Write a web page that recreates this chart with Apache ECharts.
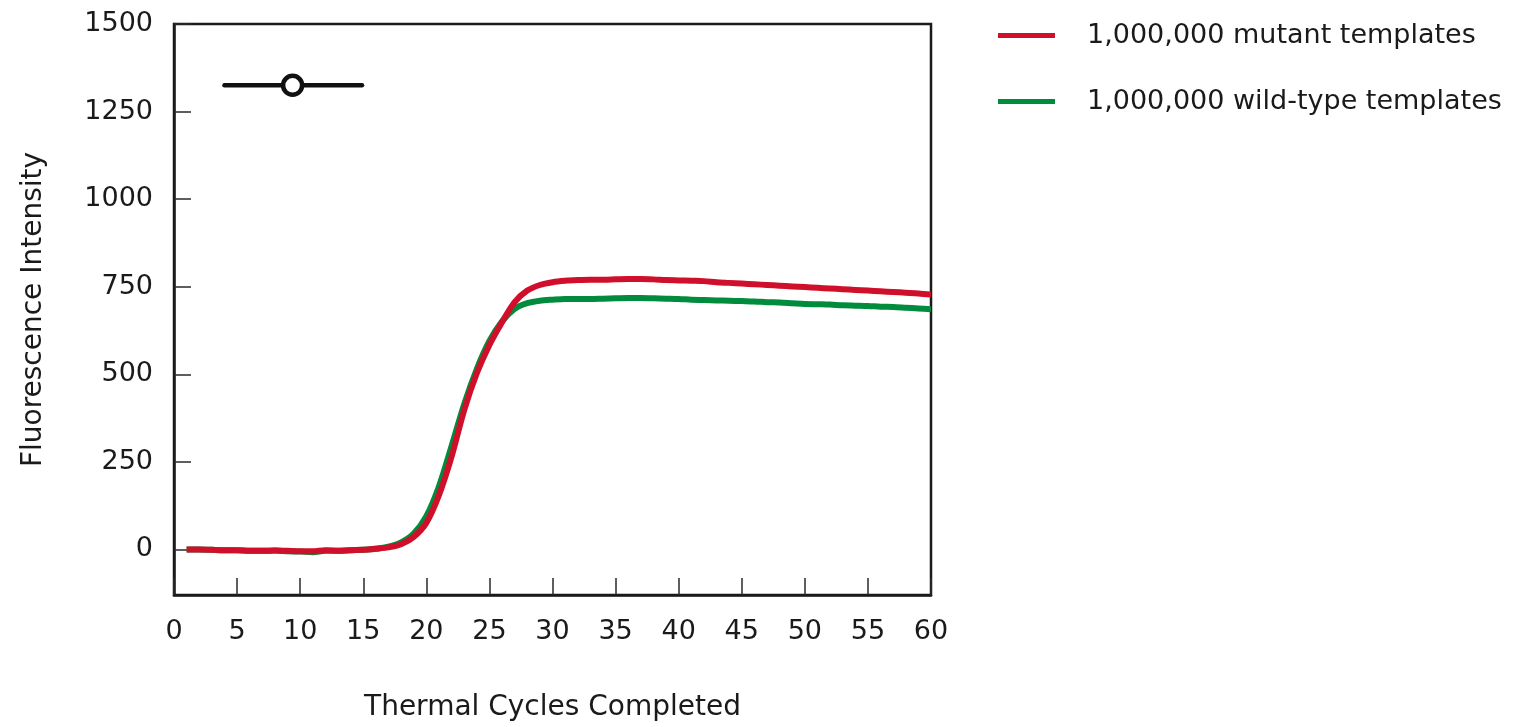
<!DOCTYPE html>
<html>
<head>
<meta charset="utf-8">
<script src="https://cdn.jsdelivr.net/npm/echarts@6/dist/echarts.min.js"></script>
<style>
  html, body { margin: 0; padding: 0; background: #ffffff; }
  #chart { width: 1525px; height: 727px; }
</style>
</head>
<body>
<div id="chart"></div>
<script>
// Thermal cycle numbers (x values)
const cycles = [
  1, 2, 3, 4, 5, 6, 7, 8, 9, 10,
  11, 12, 13, 14, 15, 16, 17, 18, 19, 20,
  21, 22, 23, 24, 25, 26, 27, 28, 29, 30,
  31, 32, 33, 34, 35, 36, 37, 38, 39, 40,
  41, 42, 43, 44, 45, 46, 47, 48, 49, 50,
  51, 52, 53, 54, 55, 56, 57, 58, 59, 60
];

// Fluorescence readings, 1,000,000 mutant templates
const mutantValues = [
  0, 0, -1, -2, -2, -4, -4, -3, -4, -5,
  -5, -2, -4, -2, -1, 2, 6, 15, 36, 76,
  155, 265, 398, 503, 584, 649, 706, 739, 755, 763,
  767, 769, 770, 770, 771, 772, 772, 771, 769, 768,
  767, 766, 763, 761, 759, 757, 755, 753, 751, 749,
  747, 745, 743, 741, 739, 737, 735, 733, 731, 728
];

// Fluorescence readings, 1,000,000 wild-type templates
const wildTypeValues = [
  0, 0, -1, -2, -2, -4, -4, -3, -5, -6,
  -8, -4, -4, -2, -1, 2, 8, 20, 45, 95,
  180, 295, 415, 515, 595, 651, 687, 703, 710, 713,
  715, 715, 715, 716, 717, 718, 718, 717, 716, 715,
  713, 712, 711, 710, 709, 708, 706, 705, 703, 701,
  700, 699, 697, 696, 695, 693, 692, 690, 688, 686
];

// Range marker drawn near the top left of the plot
const markerRange = [4, 14.9];
const markerLevel = 1325;
const markerPoint = 9.4;

// Axis ticks
const yTickLabels = [0, 250, 500, 750, 1000, 1250, 1500];
const xRange = [0, 60];
const yRange = [-130, 1500];

const seriesNames = ['1,000,000 mutant templates', '1,000,000 wild-type templates'];

const RED = '#d0102a';
const GREEN = '#008c3c';
const INK = '#1a1a1a';
const FONT = 'DejaVu Sans';

const pairs = (xs, ys) => xs.map((x, i) => [x, ys[i]]);

const chart = echarts.init(document.getElementById('chart'), null, { renderer: 'canvas' });

chart.setOption({
  animation: false,
  backgroundColor: '#ffffff',
  textStyle: { fontFamily: FONT, color: INK },
  grid: {
    left: 174, right: 594, top: 24, bottom: 132,
    show: true, borderColor: INK, borderWidth: 2.5, backgroundColor: 'transparent'
  },
  legend: {
    data: seriesNames,
    orient: 'vertical',
    left: 998,
    top: 22,
    padding: 0,
    itemWidth: 57,
    itemHeight: 5,
    itemGap: 39,
    icon: 'rect',
    textStyle: { fontFamily: FONT, fontSize: 27, color: INK, padding: [0, 0, 0, 27] }
  },
  xAxis: {
    type: 'value',
    min: xRange[0], max: xRange[1], interval: 5,
    name: 'Thermal Cycles Completed',
    nameLocation: 'middle',
    nameGap: 99,
    nameTextStyle: { fontFamily: FONT, fontSize: 28, color: INK },
    axisLine: { show: true, onZero: false, lineStyle: { color: INK, width: 2.5 } },
    axisTick: { show: true, inside: true, length: 17, lineStyle: { color: '#2a2a2a', width: 1.5 } },
    axisLabel: { fontFamily: FONT, fontSize: 27, color: INK, margin: 23 },
    splitLine: { show: false }
  },
  yAxis: {
    type: 'value',
    min: yRange[0], max: yRange[1],
    name: 'Fluorescence Intensity',
    nameLocation: 'middle',
    nameGap: 126,
    nameTextStyle: { fontFamily: FONT, fontSize: 28, color: INK },
    axisLine: { show: true, onZero: false, lineStyle: { color: INK, width: 2.5 } },
    axisTick: { show: true, inside: true, length: 17, customValues: yTickLabels, lineStyle: { color: '#2a2a2a', width: 1.5 } },
    axisLabel: {
      fontFamily: FONT, fontSize: 27, color: INK, margin: 21,
      customValues: yTickLabels,
      formatter: v => String(v)
    },
    splitLine: { show: false }
  },
  series: [
    {
      name: seriesNames[1],
      type: 'line',
      data: pairs(cycles, wildTypeValues),
      smooth: 0.3,
      showSymbol: false,
      color: GREEN,
      lineStyle: { color: GREEN, width: 6 },
      z: 2
    },
    {
      name: seriesNames[0],
      type: 'line',
      data: pairs(cycles, mutantValues),
      smooth: 0.3,
      showSymbol: false,
      color: RED,
      lineStyle: { color: RED, width: 6 },
      z: 3
    },
    {
      name: 'range',
      type: 'line',
      data: markerRange.map(x => [x, markerLevel]),
      showSymbol: false,
      lineStyle: { color: '#111111', width: 4.5, cap: 'round' },
      z: 4
    },
    {
      name: 'point',
      type: 'scatter',
      data: [[markerPoint, markerLevel]],
      symbol: 'circle',
      symbolSize: 19,
      itemStyle: { color: '#ffffff', borderColor: '#111111', borderWidth: 4.5, opacity: 1 },
      z: 5
    }
  ]
});
</script>
</body>
</html>
